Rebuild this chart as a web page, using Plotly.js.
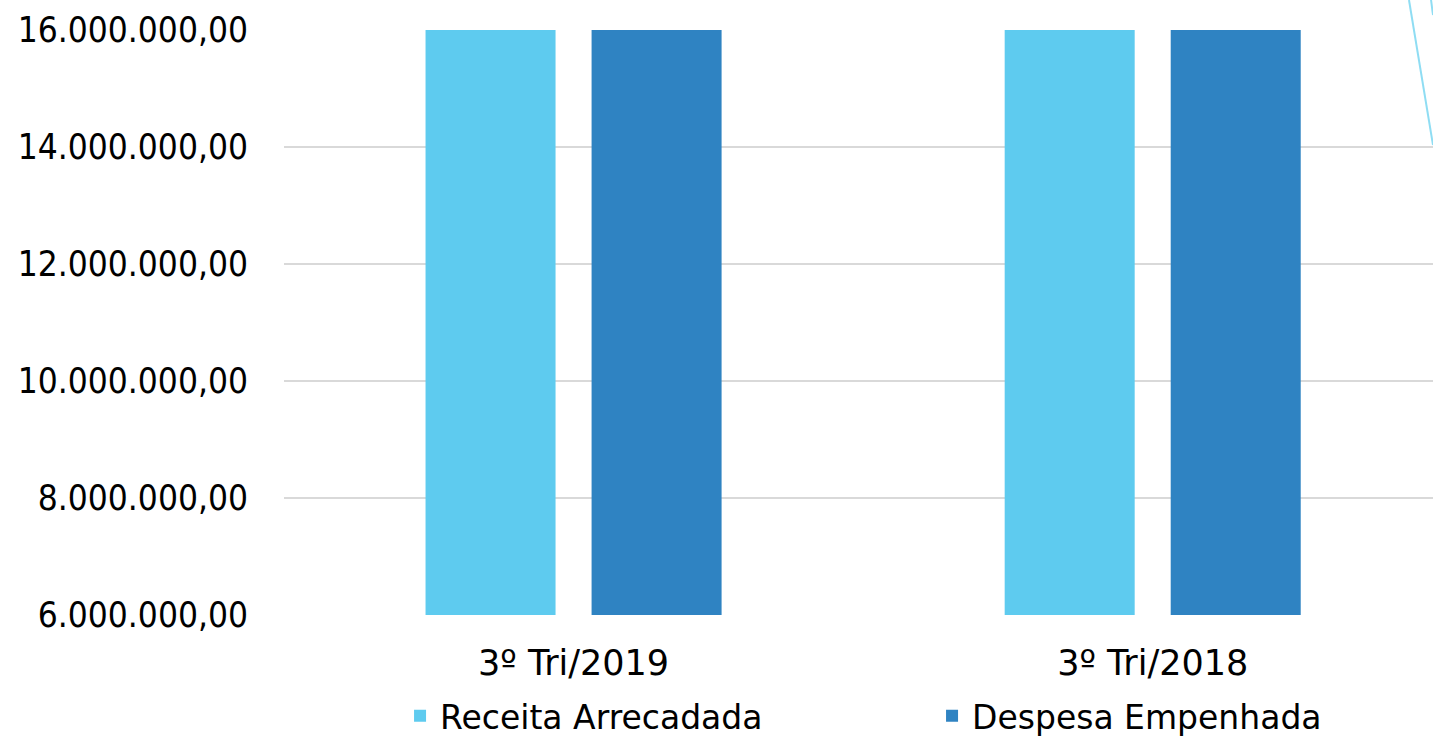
<!DOCTYPE html>
<html>
<head>
<meta charset="utf-8">
<script src="https://cdn.plot.ly/plotly-3.0.1.min.js"></script>
<style>html,body{margin:0;padding:0;overflow:hidden;background:#fff}</style>
</head>
<body>
<div id="chart" style="width:1433px;height:738px"></div>
<script>
const categories = ['3º Tri/2019', '3º Tri/2018'];
const receitaArrecadada = [17500000, 17300000];
const despesaEmpenhada = [17100000, 16900000];
const seriesNames = ['Receita Arrecadada', 'Despesa Empenhada'];
const yTicks = [6000000, 8000000, 10000000, 12000000, 14000000, 16000000];

const tickFont = {family: '"DejaVu Sans Condensed", "DejaVu Sans", sans-serif', size: 35, color: '#000'};
const catFont = {family: '"DejaVu Sans", sans-serif', size: 35, color: '#000'};
const legFont = {family: '"DejaVu Sans", sans-serif', size: 33, color: '#000'};

const data = [
  {type: 'bar', name: seriesNames[0], x: categories, y: receitaArrecadada, marker: {color: '#5ECBEF'}, hoverinfo: 'none', legendwidth: 487},
  {type: 'bar', name: seriesNames[1], x: categories, y: despesaEmpenhada, marker: {color: '#2F83C2'}, hoverinfo: 'none'}
];

const layout = {
  width: 1433, height: 738,
  margin: {l: 284, r: 0, t: 30, b: 123},
  paper_bgcolor: '#fff', plot_bgcolor: '#fff',
  separators: ',.',
  font: catFont,
  barmode: 'group',
  bargap: 0.4266,
  bargroupgap: 0.217,
  xaxis: {
    type: 'category', range: [-0.5, 1.484],
    showgrid: false, showline: false, zeroline: false,
    ticks: '', tickfont: catFont, ticklabelstandoff: 24
  },
  yaxis: {
    range: [6000000, 16000000], tickvals: yTicks, tickformat: ',.2f',
    showgrid: true, gridcolor: '#D9D9D9', gridwidth: 2,
    zeroline: false, showline: false, ticks: '',
    tickfont: tickFont, ticklabelstandoff: 35
  },
  showlegend: true,
  legend: {
    orientation: 'h', x: 0.101, xanchor: 'left',
    yref: 'container', y: 0.03, yanchor: 'middle',
    font: legFont, bgcolor: 'rgba(0,0,0,0)'
  },
  shapes: [
    {type: 'line', xref: 'paper', yref: 'paper', x0: 0.9791, y0: 1.0513, x1: 1.0, y1: 0.8034, line: {color: '#8FDDF3', width: 2}},
    {type: 'line', xref: 'paper', yref: 'paper', x0: 0.9983, y0: 1.0513, x1: 1.0, y1: 1.0256, line: {color: '#8FDDF3', width: 2}}
  ]
};

Plotly.newPlot('chart', data, layout, {displayModeBar: false, staticPlot: true});
</script>
</body>
</html>
